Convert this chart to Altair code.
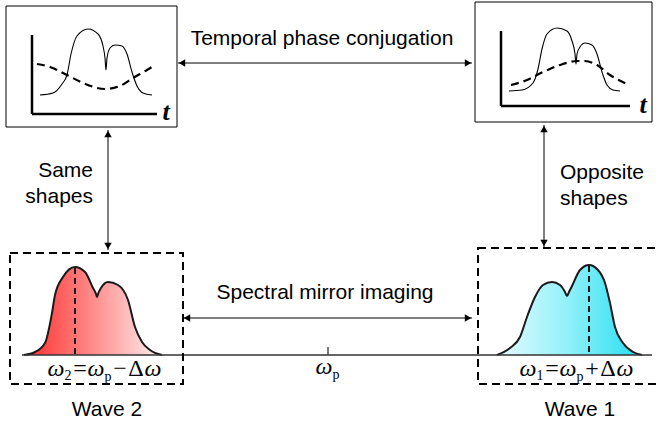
import altair as alt
import pandas as pd

W, H = 657, 425

# ---------------- data ----------------
# temporal frames (solid) and spectral frames (dashed)
frame_x = [6, 475]
frame_y = [6, 2]
frame_x2 = [177, 652]
frame_y2 = [127, 122]

spec_box_x = [10, 478]
spec_box_y = [253, 248]
spec_box_x2 = [183, 668]
spec_box_y2 = [384, 384]

# L-shaped time axes inside the frames
axis_x = [32, 32, 501, 501]
axis_y = [35, 114, 31, 106]
axis_x2 = [32, 157, 501, 630]
axis_y2 = [114, 114, 106, 106]

# double-headed arrows
arrow_x = [178, 183, 108, 544]
arrow_y = [63, 318, 130, 125]
arrow_x2 = [472, 472, 108, 544]
arrow_y2 = [63, 318, 250, 247]

# frequency axis and omega_p tick
freq_x = [22, 328]
freq_y = [355, 347]
freq_x2 = [652, 328]
freq_y2 = [355, 355]

# temporal intensity (solid) and phase (dashed) curves
solid_L_x = [40, 53, 62, 67, 71, 77, 88, 98, 103, 105, 106, 107, 110, 115, 122, 127, 132, 137, 143, 152]
solid_L_y = [95, 93, 84, 75, 54, 36, 29, 34, 46, 58, 70, 58, 48, 45, 46, 54, 72, 86, 93, 95]
dashed_L_x = [37, 50, 67, 83, 105, 120, 133, 147, 155]
dashed_L_y = [64, 67, 75, 83, 89, 86, 78, 70, 65]

solid_R_x = [509, 522, 533, 538, 542, 547, 557, 567, 572, 575, 576, 577, 580, 585, 592, 597, 602, 607, 613, 620]
solid_R_y = [91, 90, 83, 69, 49, 34, 28, 31, 41, 54, 64, 54, 47, 43, 45, 54, 72, 85, 90, 91]
dashed_R_x = [511, 527, 543, 560, 577, 585, 597, 610, 627]
dashed_R_y = [85, 80, 72, 65, 61, 61, 65, 75, 84]

# spectra
red_x = [24, 35, 45, 52, 55, 63, 75, 85, 93, 96, 97, 98, 101, 108, 118, 128, 135, 142, 150, 162]
red_y = [355, 352, 343, 313, 295, 277, 267, 272, 288, 294, 297, 294, 288, 282, 285, 300, 327, 342, 350, 355]
blue_x = [497, 510, 520, 527, 535, 543, 552, 560, 565, 567, 569, 572, 580, 589, 598, 605, 610, 615, 623, 633, 642]
blue_y = [355, 348, 337, 317, 297, 285, 282, 285, 292, 296, 292, 286, 270, 265, 270, 283, 303, 327, 343, 352, 355]
spec_base = 355

# centre-frequency markers (dashed verticals)
peak_x = [75, 589]
peak_y = [268, 266]

# plain labels
label_c_text = ["Temporal phase conjugation", "Spectral mirror imaging", "Wave 2", "Wave 1"]
label_c_x = [322, 325, 107, 580]
label_c_y = [45, 299, 416, 416]
label_r_text = ["Same", "shapes"]
label_r_x = [93, 93]
label_r_y = [177, 203]
label_l_text = ["Opposite", "shapes"]
label_l_x = [560, 560]
label_l_y = [179, 205]

# math labels (glyph pieces)
ital_text = ["ω", "ω", "ω", "ω", "ω", "ω", "ω"]
ital_x = [56, 96, 153, 528, 568, 625, 324]
ital_y = [376, 376, 376, 376, 376, 376, 374]
t_text = ["t", "t"]
t_x = [166, 643]
t_y = [120, 113]
rom_text = ["=", "−", "Δ", "=", "+", "Δ"]
rom_x = [80, 120, 136, 552, 592, 608]
rom_y = [376, 376, 376, 376, 376, 376]
sub_text = ["2", "p", "1", "p", "p"]
sub_x = [68, 108, 540, 580, 336]
sub_y = [380, 381, 380, 381, 379]

# ---------------- helpers ----------------
XS = alt.Scale(domain=[0, W], nice=False, zero=False)
YS = alt.Scale(domain=[0, H], nice=False, zero=False, reverse=True)


def X(f):
    return alt.X(f, type="quantitative", scale=XS, axis=None)


def Y(f):
    return alt.Y(f, type="quantitative", scale=YS, axis=None)


def seg_df(x, y, x2, y2):
    return pd.DataFrame({"x": x, "y": y, "x2": x2, "y2": y2})


def curve_df(pairs):
    rows = []
    for name, xs, ys in pairs:
        for i, (a, b) in enumerate(zip(xs, ys)):
            rows.append({"s": name, "i": i, "x": a, "y": b})
    return pd.DataFrame(rows)


def rects(df, **kw):
    return alt.Chart(df).mark_rect(fillOpacity=0, **kw).encode(
        x=X("x"), y=Y("y"), x2="x2", y2="y2")


def rules(df, **kw):
    return alt.Chart(df).mark_rule(**kw).encode(
        x=X("x"), y=Y("y"), x2="x2", y2="y2")


def texts(df, **kw):
    return alt.Chart(df).mark_text(baseline="alphabetic", color="black", **kw).encode(
        x=X("x"), y=Y("y"), text="t:N")


# ---------------- layers ----------------
frames = rects(seg_df(frame_x, frame_y, frame_x2, frame_y2), stroke="black", strokeWidth=1)
spec_boxes = rects(seg_df(spec_box_x, spec_box_y, spec_box_x2, spec_box_y2),
                   stroke="black", strokeWidth=2, strokeDash=[8, 5])
axes = rules(seg_df(axis_x, axis_y, axis_x2, axis_y2), color="black", strokeWidth=2.5)
freq = rules(seg_df(freq_x, freq_y, freq_x2, freq_y2), color="#333333", strokeWidth=1.3)
arrows = rules(seg_df(arrow_x, arrow_y, arrow_x2, arrow_y2), color="black", strokeWidth=1)

heads = []
for a, b, c, d in zip(arrow_x, arrow_y, arrow_x2, arrow_y2):
    if b == d:
        heads.append({"x": a + 4, "y": b, "shape": "triangle-left"})
        heads.append({"x": c - 4, "y": d, "shape": "triangle-right"})
    else:
        heads.append({"x": a, "y": b + 4, "shape": "triangle-up"})
        heads.append({"x": c, "y": d - 4, "shape": "triangle-down"})
arrow_heads = alt.Chart(pd.DataFrame(heads)).mark_point(
    filled=True, color="black", opacity=1, size=55).encode(
    x=X("x"), y=Y("y"), shape=alt.Shape("shape:N", scale=None))

solid = alt.Chart(curve_df([("L", solid_L_x, solid_L_y), ("R", solid_R_x, solid_R_y)])).mark_line(
    color="black", strokeWidth=1.1, interpolate="monotone").encode(
    x=X("x"), y=Y("y"), detail="s:N", order="i:Q")
dashed = alt.Chart(curve_df([("L", dashed_L_x, dashed_L_y), ("R", dashed_R_x, dashed_R_y)])).mark_line(
    color="black", strokeWidth=2.2, strokeDash=[8, 5], interpolate="monotone").encode(
    x=X("x"), y=Y("y"), detail="s:N", order="i:Q")


def spectrum(xs, ys, stops):
    df = pd.DataFrame({"x": xs, "y": ys, "b": [spec_base] * len(xs)})
    grad = alt.Gradient(gradient="linear", x1=0, x2=1, y1=0, y2=0,
                        stops=[alt.GradientStop(color=c, offset=o) for o, c in stops])
    area = alt.Chart(df).mark_area(color=grad, interpolate="monotone").encode(
        x=X("x"), y=Y("y"), y2="b")
    line = alt.Chart(df).mark_line(color="#1a1a1a", strokeWidth=2, interpolate="monotone").encode(
        x=X("x"), y=Y("y"))
    return area + line


red = spectrum(red_x, red_y, [(0, "#ff2b2b"), (0.5, "#ff8c8c"), (1, "#fff0f0")])
blue = spectrum(blue_x, blue_y, [(0, "#e6fcff"), (0.5, "#8ff0fa"), (1, "#22def0")])

peaks = rules(pd.DataFrame({"x": peak_x, "y": peak_y, "x2": peak_x, "y2": [spec_base] * 2}),
              color="#1a1a1a", strokeWidth=2, strokeDash=[6, 4])

lab_c = texts(pd.DataFrame({"t": label_c_text, "x": label_c_x, "y": label_c_y}),
              align="center", font="Liberation Sans", fontSize=21)
lab_r = texts(pd.DataFrame({"t": label_r_text, "x": label_r_x, "y": label_r_y}),
              align="right", font="Liberation Sans", fontSize=21)
lab_l = texts(pd.DataFrame({"t": label_l_text, "x": label_l_x, "y": label_l_y}),
              align="left", font="Liberation Sans", fontSize=21)
ital = texts(pd.DataFrame({"t": ital_text, "x": ital_x, "y": ital_y}),
             align="center", font="Liberation Serif", fontStyle="italic", fontSize=24)
tlab = texts(pd.DataFrame({"t": t_text, "x": t_x, "y": t_y}),
             align="center", font="Liberation Serif", fontStyle="italic", fontWeight="bold", fontSize=26)
rom = texts(pd.DataFrame({"t": rom_text, "x": rom_x, "y": rom_y}),
            align="center", font="Liberation Serif", fontSize=24)
sub = texts(pd.DataFrame({"t": sub_text, "x": sub_x, "y": sub_y}),
            align="center", font="Liberation Serif", fontSize=14)

chart = alt.layer(
    red, blue, peaks, freq, spec_boxes, frames, axes, solid, dashed,
    arrows, arrow_heads, lab_c, lab_r, lab_l, ital, tlab, rom, sub,
).properties(
    width=W, height=H, padding=0, background="white",
    autosize=alt.AutoSizeParams(type="none"),
).configure_view(stroke=None)

chart.save("out.html", embed_options={"renderer": "svg", "actions": False})
